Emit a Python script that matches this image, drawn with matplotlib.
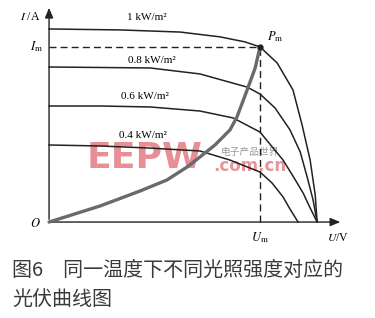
import matplotlib.pyplot as plt

plt.rcParams["mathtext.fontset"] = "stix"

# normalised units: U / U_oc(1 kW/m2), I / I_sc(1 kW/m2)
u_1000 = [0, 0.265, 0.489, 0.638, 0.731, 0.787, 0.851, 0.910, 0.944, 0.974, 0.993, 1.0]
i_1000 = [1.0, 0.995, 0.984, 0.959, 0.933, 0.907, 0.824, 0.684, 0.503, 0.321, 0.140, 0]

u_800 = [0, 0.377, 0.563, 0.739, 0.787, 0.843, 0.899, 0.937, 0.963, 0.985, 1.0]
i_800 = [0.803, 0.798, 0.767, 0.699, 0.663, 0.591, 0.477, 0.363, 0.233, 0.114, 0]

u_600 = [0, 0.190, 0.377, 0.563, 0.687, 0.787, 0.873, 0.910, 0.948, 0.974, 1.0]
i_600 = [0.601, 0.601, 0.596, 0.575, 0.539, 0.466, 0.321, 0.238, 0.150, 0.073, 0]

u_400 = [0, 0.190, 0.377, 0.563, 0.675, 0.787, 0.832, 0.873, 0.899, 0.929]
i_400 = [0.399, 0.394, 0.383, 0.368, 0.321, 0.259, 0.202, 0.130, 0.067, 0]

# maximum power point track
u_mpp = [0, 0.190, 0.340, 0.440, 0.515, 0.563, 0.619, 0.675, 0.701, 0.739, 0.769, 0.787]
i_mpp = [0, 0.083, 0.161, 0.218, 0.285, 0.337, 0.399, 0.477, 0.544, 0.684, 0.798, 0.907]

U_M, I_M = 0.787, 0.907

curves = [
    (u_1000, i_1000, "1 kW/m²", (0.366, 1.057)),
    (u_800, i_800, "0.8 kW/m²", (0.384, 0.839)),
    (u_600, i_600, "0.6 kW/m²", (0.358, 0.648)),
    (u_400, i_400, "0.4 kW/m²", (0.351, 0.446)),
]

fig = plt.figure(figsize=(3.75, 3.18), dpi=100)
ax = fig.add_axes([0, 0, 1, 1])
ax.set_xlim(-0.183, 1.216)
ax.set_ylim(-0.497, 1.150)
ax.axis("off")

serif = "Liberation Serif"

# watermark
ax.text(0.358, 0.332, "EEPW", fontsize=26, fontweight="bold", color="#e06a70",
        alpha=0.75, ha="center", va="center", zorder=1)
ax.text(0.75, 0.29, ".com.cn", fontsize=12, fontweight="bold", color="#e07a80",
        alpha=0.8, ha="center", va="center", zorder=1)
ax.text(0.75, 0.363, "电子产品世界", fontsize=7, color="#999999",
        family=["Noto Sans CJK SC", "DejaVu Sans"], ha="center", va="center", zorder=1)

for u, i, label, pos in curves:
    ax.plot(u, i, color="#222222", lw=1.1, zorder=3)
    ax.text(pos[0], pos[1], label, family=serif, fontsize=8, ha="center", va="center")

ax.plot(u_mpp, i_mpp, color="#6a6a6a", lw=2.4, solid_capstyle="round", zorder=4)

ax.plot([0, U_M], [I_M, I_M], color="#222222", lw=1.0, dashes=(5, 3), zorder=3)
ax.plot([U_M, U_M], [0, I_M], color="#222222", lw=1.0, dashes=(5, 3), zorder=3)
ax.plot([U_M], [I_M], "o", color="#222222", ms=3.5, zorder=5)

# axes with arrows
arrow = dict(arrowstyle="-|>,head_length=0.6,head_width=0.25", color="#222222", lw=1.0)
ax.annotate("", xy=(0, 1.124), xytext=(0, 0), arrowprops=arrow, zorder=2)
ax.annotate("", xy=(1.097, 0), xytext=(0, 0), arrowprops=arrow, zorder=2)

ax.text(-0.03, 1.062, r"$I$ /A", family=serif, fontsize=8.5, ha="right", va="center")
ax.text(-0.022, 0.907, r"$I_{\rm m}$", fontsize=9, ha="right", va="center")
ax.text(-0.05, -0.01, r"$O$", fontsize=9, ha="center", va="center")
ax.text(U_M + 0.056, I_M + 0.052, r"$P_{\rm m}$", fontsize=9, ha="center", va="center")
ax.text(U_M, -0.083, r"$U_{\rm m}$", fontsize=9, ha="center", va="center")
ax.text(1.078, -0.083, r"$U$/V", family=serif, fontsize=8.5, ha="center", va="center")

cjk = ["Noto Sans CJK SC", "DejaVu Sans"]
fig.text(0.032, 0.148, "图6　同一温度下不同光照强度对应的", family=cjk, fontsize=14.4,
         color="#3a3a3a", ha="left", va="center")
fig.text(0.032, 0.057, "光伏曲线图", family=cjk, fontsize=14.4,
         color="#3a3a3a", ha="left", va="center")

fig.savefig("out.png", dpi=100)
